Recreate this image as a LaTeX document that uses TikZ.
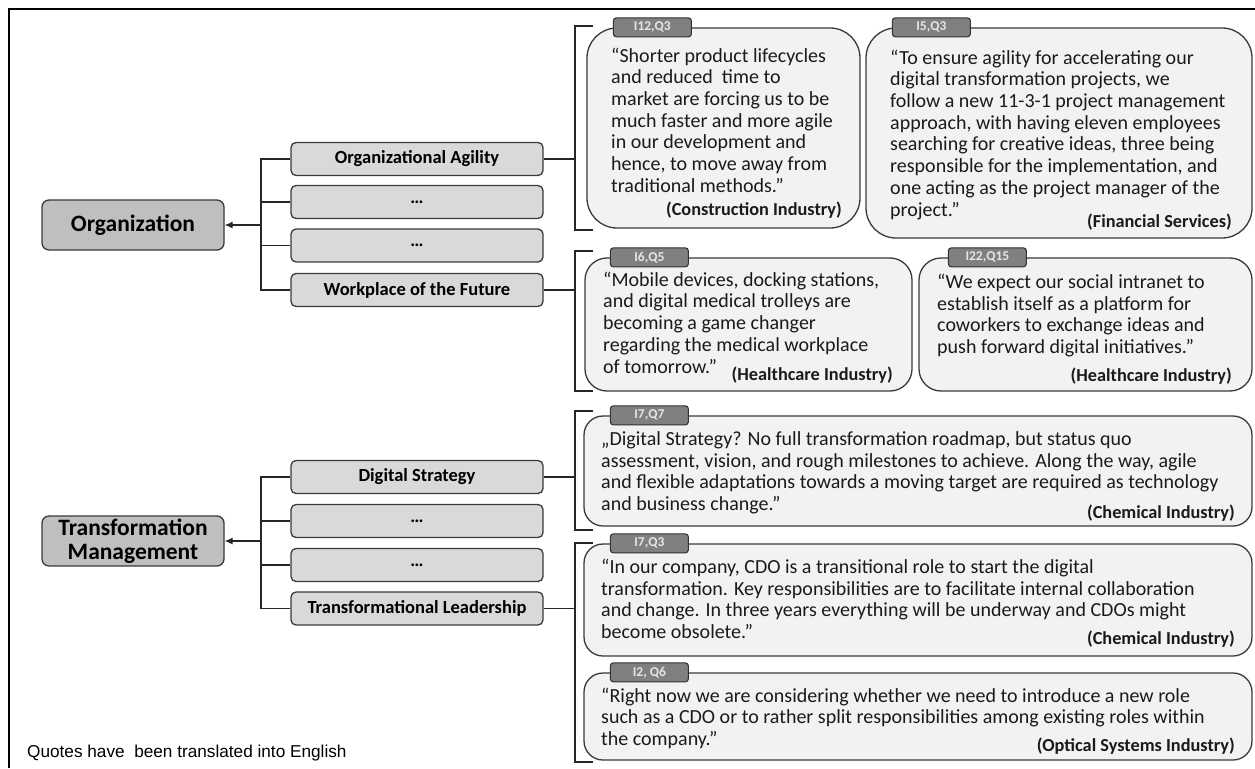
\documentclass[tikz,border=0pt]{standalone}
\usepackage{fontspec}
\setmainfont{Carlito}
\newfontfamily\notefont{Liberation Sans}
\usepackage{xcolor}
\usepackage{tikz}
\usetikzlibrary{positioning,calc,arrows.meta}
\definecolor{boxline}{HTML}{3A3A3A}
\definecolor{quotetext}{HTML}{1A1A1A}
\definecolor{tablabel}{HTML}{E6E6E6}
\newcommand{\subdots}{…}

\begin{document}
\begin{tikzpicture}[x=1pt, y=-1pt,
    mainbox/.style={draw=boxline, fill=gray!50, line width=1.3, rounded corners=7, minimum width=182, minimum height=50, inner sep=0, align=center, font=\bfseries\fontsize{23.5}{23.5}\selectfont},
    subbox/.style={draw=boxline, fill=gray!30, line width=1.3, rounded corners=5, minimum width=252, minimum height=33, inner sep=0, font=\bfseries\fontsize{18.5}{20}\selectfont},
    quotebox/.style={draw=boxline, fill=gray!10, line width=1.3, inner sep=0},
    qtab/.style={draw=black!80, fill=gray, line width=1.1, rounded corners=3, minimum width=78, minimum height=19, inner sep=0, text=tablabel, font=\bfseries\fontsize{13.5}{14}\selectfont},
    qtext/.style={anchor=base west, align=left, inner sep=0, text=quotetext, font=\fontsize{20}{21.7}\selectfont},
    qsource/.style={anchor=base east, inner sep=0, text=quotetext, font=\bfseries\fontsize{18.3}{20}\selectfont},
    link/.style={line width=1.2, black!85}]
    \useasboundingbox (0,0) rectangle (1255,768);
    \fill[white] (0,0) rectangle (1255,768);
    \draw[line width=1.2] (9,768) -- (9,9) -- (1255,9);

    % dimensions
    \node[mainbox] (org) at (133,225) {Organization};
    \node[mainbox] (tm) at (133,541) {Transformation\\Management};

    % sub-dimensions
    \foreach \y/\name/\txt in {159/oa/Organizational Agility, 202/o2/\subdots, 245.5/o3/\subdots, 290/wf/Workplace of the Future,
                               477/ds/Digital Strategy, 521/t2/\subdots, 565/t3/\subdots, 608.5/tl/Transformational Leadership}
        \node[subbox] (\name) at (417,\y) {\txt};

    \coordinate (oj) at (261,225);
    \coordinate (tj) at (261,541);
    \foreach \n in {oa,o2,o3,wf} \draw[link] (\n.west) -| (oj);
    \foreach \n in {ds,t2,t3,tl} \draw[link] (\n.west) -| (tj);
    \draw[link, -{Latex[length=8,width=7]}] (oj) -- (org);
    \draw[link, -{Latex[length=8,width=7]}] (tj) -- (tm);

    % brackets to the quotes
    \foreach \a/\b/\n in {26/230/oa, 251/391/wf, 411/530/ds, 543/762/tl} {
        \draw[link] (593,\a) -- (575,\a) -- (575,\b) -- (593,\b);
        \draw[link] (\n.east) -- ++(32,0);
    }

    % quote boxes
    \node[quotebox, rounded corners=30, minimum width=273, minimum height=200] (q1) at (723.5,128) {};
    \node[quotebox, rounded corners=30, minimum width=386, minimum height=210] (q2) at (1059,133) {};
    \node[quotebox, rounded corners=22, minimum width=327, minimum height=133] (q3) at (748.5,324.5) {};
    \node[quotebox, rounded corners=22, minimum width=333, minimum height=133] (q4) at (1085.5,324.5) {};
    \node[quotebox, rounded corners=19, minimum width=668, minimum height=110] (q5) at (918,471) {};
    \node[quotebox, rounded corners=19, minimum width=668, minimum height=112] (q6) at (918,600) {};
    \node[quotebox, rounded corners=19, minimum width=668, minimum height=87] (q7) at (918,716.5) {};

    \node[qtab] (t1) at ([xshift=66pt]q1.north west) {I12,Q3};
    \node[qtab] (t2) at ([xshift=66pt]q2.north west) {I5,Q3};
    \node[qtab] (t3) at ([xshift=65pt]q3.north west) {I6,Q5};
    \node[qtab] (t4) at ([xshift=69pt]q4.north west) {I22,Q15};
    \node[qtab] (t5) at ([xshift=66pt]q5.north west) {I7,Q7};
    \node[qtab] (t6) at ([xshift=66pt]q6.north west) {I7,Q3};
    \node[qtab] (t7) at ([xshift=66pt]q7.north west) {I2, Q6};

    % quotes (anchored at the baseline of their last line)
    \node[qtext] (x1) at (611,192.2) {“Shorter product lifecycles\\and reduced~ time to\\market are forcing us to be\\much faster and more agile\\in our development and\\hence, to move away from\\traditional methods.”};
    \node[qsource] (s1) at (842,215) {(Construction Industry)};
    \node[qtext] (x2) at (890,216) {“To ensure agility for accelerating our\\digital transformation projects, we\\follow a new 11-3-1 project management\\approach, with having eleven employees\\searching for creative ideas, three being\\responsible for the implementation, and\\one acting as the project manager of the\\project.”};
    \node[qsource] (s2) at (1232,227) {(Financial Services)};
    \node[qtext] (x3) at (603,373) {“Mobile devices, docking stations,\\and digital medical trolleys are\\becoming a game changer\\regarding the medical workplace\\of tomorrow.”};
    \node[qsource] (s3) at (893,380) {(Healthcare Industry)};
    \node[qtext] (x4) at (937,353.5) {“We expect our social intranet to\\establish itself as a platform for\\coworkers to exchange ideas and\\push forward digital initiatives.”};
    \node[qsource] (s4) at (1232,381) {(Healthcare Industry)};
    \node[qtext] (x5) at (601,510.5) {„Digital Strategy? No full transformation roadmap, but status quo\\assessment, vision, and rough milestones to achieve. Along the way, agile\\and flexible adaptations towards a moving target are required as technology\\and business change.”};
    \node[qsource] (s5) at (1235,518) {(Chemical Industry)};
    \node[qtext] (x6) at (601,638.5) {“In our company, CDO is a transitional role to start the digital\\transformation. Key responsibilities are to facilitate internal collaboration\\and change. In three years everything will be underway and CDOs might\\become obsolete.”};
    \node[qsource] (s6) at (1235,644) {(Chemical Industry)};
    \node[qtext] (x7) at (601,745.5) {“Right now we are considering whether we need to introduce a new role\\such as a CDO or to rather split responsibilities among existing roles within\\the company.”};
    \node[qsource] (s7) at (1235,751) {(Optical Systems Industry)};

    \node[anchor=base west, inner sep=0, font=\notefont\fontsize{17.2}{18}\selectfont] (note) at (27,757) {Quotes have~ been translated into English};
\end{tikzpicture}
\end{document}
